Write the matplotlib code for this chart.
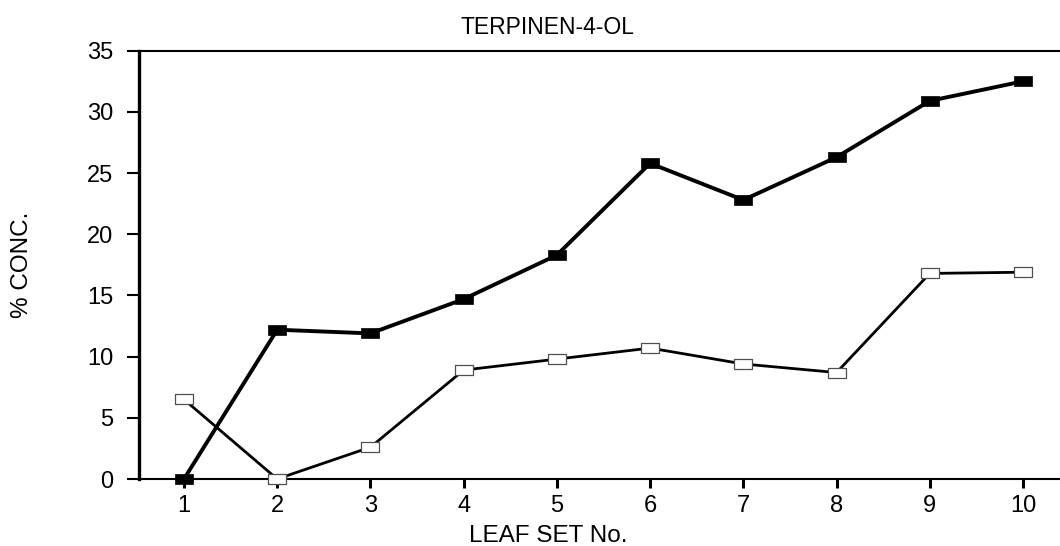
import matplotlib.pyplot as plt

leaf_set = [1, 2, 3, 4, 5, 6, 7, 8, 9, 10]
filled_series = [0, 12.2, 11.9, 14.7, 18.3, 25.8, 22.8, 26.3, 30.9, 32.5]
open_series = [6.5, 0, 2.6, 8.9, 9.8, 10.7, 9.4, 8.7, 16.8, 16.9]
y_ticks = [0, 5, 10, 15, 20, 25, 30, 35]

plt.rcParams['font.family'] = ['Liberation Sans', 'DejaVu Sans']
plt.rcParams['font.size'] = 17

fig = plt.figure(figsize=(10.6, 5.46), dpi=100)
ax = fig.add_axes([0.1311, 0.1227, 0.8689, 0.7844])

# wide, flat square marker
rect = [(-1, -0.58), (1, -0.58), (1, 0.58), (-1, 0.58), (-1, -0.58)]

ax.plot(leaf_set, open_series, color='black', linewidth=2.0,
        marker=rect, markersize=13.3, markerfacecolor='white',
        markeredgecolor='#505050', markeredgewidth=0.9, clip_on=False, zorder=3)
ax.plot(leaf_set, filled_series, color='black', linewidth=2.8,
        marker=rect, markersize=13.3, markerfacecolor='black',
        markeredgecolor='black', markeredgewidth=0.5, clip_on=False, zorder=4)

ax.set_xlim(0.517, 10.397)
ax.set_ylim(0, 35)
ax.set_xticks(leaf_set)
ax.set_yticks(y_ticks)

ax.spines['right'].set_visible(False)
ax.spines['left'].set_linewidth(2.4)
ax.spines['bottom'].set_linewidth(1.5)
ax.spines['top'].set_linewidth(1.5)

ax.tick_params(axis='y', direction='out', length=8.6, width=1.5, pad=10, labelsize=17)
ax.tick_params(axis='x', direction='out', length=6.5, width=2.2, pad=5, labelsize=17)

ax.set_xlabel('LEAF SET No.', fontsize=17.5)
ax.xaxis.set_label_coords(0.444, -0.108)
ax.set_ylabel('% CONC.', fontsize=17.5)
ax.yaxis.set_label_coords(-0.115, 0.5)
ax.set_title('TERPINEN-4-OL', x=0.444, pad=12, fontsize=16.5)

fig.savefig('out.png', dpi=100)
